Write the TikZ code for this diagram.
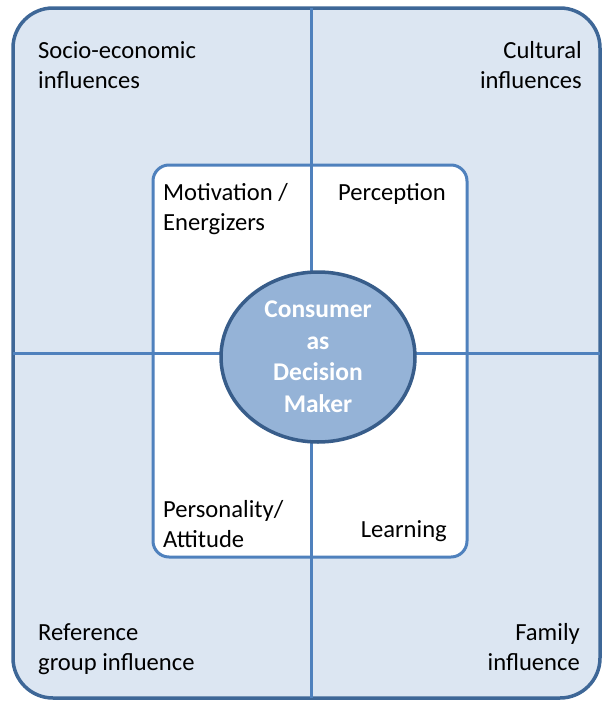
\documentclass[tikz,border=0pt]{standalone}
\usepackage{fontspec}
\setmainfont{Carlito}
\usetikzlibrary{shapes.geometric}

\definecolor{outerfill}{HTML}{DCE6F2}
\definecolor{outerline}{HTML}{3E6797}
\definecolor{gridline}{HTML}{4F81BD}
\definecolor{corefill}{HTML}{95B3D7}
\definecolor{coreline}{HTML}{385D8A}

\begin{document}
\begin{tikzpicture}[x=1pt,y=-1pt]

\tikzstyle{frame} = [rectangle, rounded corners=40pt, draw=outerline, line width=3.5pt, fill=outerfill]
\tikzstyle{panel} = [rectangle, rounded corners=16pt, draw=gridline, line width=3pt, fill=white]
\tikzstyle{cross} = [draw=gridline, line width=3pt]
\tikzstyle{core} = [ellipse, draw=coreline, line width=3.5pt, fill=corefill, inner sep=0pt]
\tikzstyle{leftlabel} = [anchor=base west, align=left, inner sep=0pt, font=\fontsize{24.6}{30}\selectfont]
\tikzstyle{rightlabel} = [anchor=base east, align=right, inner sep=0pt, font=\fontsize{24.6}{30}\selectfont]
\tikzstyle{corelabel} = [anchor=base, inner sep=0pt, text=white, font=\bfseries\fontsize{25.5}{31.7}\selectfont]

\useasboundingbox (0,0) rectangle (602,704);

% boxes
\node[frame, minimum width=587pt, minimum height=690pt] (outer) at (306.5,353) {};
\node[panel, minimum width=314pt, minimum height=392pt] (inner) at (310,361) {};

% cross lines
\coordinate (top) at (311,8);
\coordinate (bottom) at (311,698);
\coordinate (left) at (13,353);
\coordinate (right) at (600,353);
\draw[cross] (top) -- (bottom);
\draw[cross] (left) -- (right);

% centre
\node[core, minimum width=194pt, minimum height=170pt] (decider) at (318,357) {};
\node[corelabel] (c1) at (318,317) {Consumer};
\node[corelabel] (c2) at (318,349) {as};
\node[corelabel] (c3) at (318,380) {Decision};
\node[corelabel] (c4) at (318,412) {Maker};

% outer quadrants (base = last line)
\node[leftlabel] (socio) at (38,88) {Socio-economic\\influences};
\node[rightlabel] (culture) at (582,88) {Cultural\\influences};
\node[leftlabel] (reference) at (38,670) {Reference\\group influence};
\node[rightlabel] (family) at (580,670) {Family\\influence};

% inner quadrants
\node[leftlabel] (motive) at (163,230) {Motivation /\\Energizers};
\node[rightlabel] (percept) at (446,200) {Perception};
\node[leftlabel] (persona) at (163,547) {Personality/\\Attitude};
\node[rightlabel] (learn) at (447,537) {Learning};

\end{tikzpicture}
\end{document}
